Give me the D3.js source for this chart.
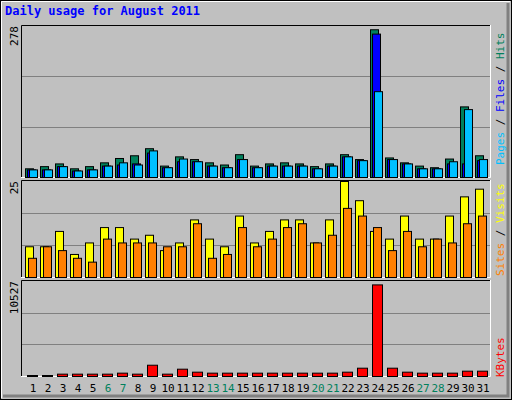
<!DOCTYPE html>
<html><head><meta charset="utf-8">
<script src="https://cdn.jsdelivr.net/npm/d3@7"></script>
<style>body{margin:0;background:#fff}text{font-family:"DejaVu Sans Mono",monospace}</style>
</head><body><svg id="c" width="512" height="400"></svg>
<script>
const days=d3.range(1,32);
const weekend=[6,7,13,14,20,21,27,28];
const hits=[16,20,25,16,20,27,35,40,53,21,38,33,27,23,42,21,25,27,25,20,25,42,33,272,36,27,21,18,34,130,40];
const files=[14,14,20,12,14,21,23,25,45,18,29,29,21,18,33,18,21,21,21,16,21,38,31,264,33,25,16,16,25,25,31];
const pages=[14,14,20,12,14,21,27,23,49,18,34,29,21,18,33,18,21,21,21,16,21,38,31,158,33,25,16,16,29,125,33];
const visits=[8,8,12,6,9,13,13,10,11,7,9,15,10,8,16,9,12,15,15,9,15,25,20,12,10,16,10,10,16,21,23];
const sites=[5,8,7,5,4,10,9,9,9,8,8,14,5,6,13,8,10,13,14,9,11,18,16,13,7,12,8,10,9,14,16];
const kbytes=[110,110,260,260,260,260,370,260,1250,260,810,480,370,370,370,370,370,370,370,370,370,480,920,10150,920,480,370,370,370,590,590];
const maxHits=278,maxVisits=25,maxKB=10527;

const svg=d3.select("#c");
svg.append("rect").attr("width",512).attr("height",400).attr("fill","#c0c0c0");
svg.append("rect").attr("x",0.5).attr("y",0.5).attr("width",511).attr("height",399).attr("fill","none").attr("stroke","#000");
svg.append("path").attr("d","M1.5,398V1.5H510").attr("stroke","#fff").attr("fill","none");
svg.append("path").attr("d","M508,3V396H3").attr("stroke","#808080").attr("stroke-width",3).attr("fill","none");

const x=d3.scaleBand().domain(days).range([25,490]).paddingInner(0).paddingOuter(0);
const X=d=>25+(d-1)*15;
const L=21,R=491;
function panel(t,b){
  svg.append("rect").attr("x",L).attr("y",t).attr("width",R-L).attr("height",b-t).attr("fill","#c0c0c0");
  svg.append("path").attr("d",`M${L+.5},${b}V${t+.5}H${R}`).attr("stroke","#000").attr("fill","none");
  svg.append("path").attr("d",`M${R-.5},${t}V${b-.5}H${L}`).attr("stroke","#fff").attr("fill","none");
  const y=d3.scaleLinear().range([b-1,t+1]);
  [1/3,2/3].forEach(f=>{const yy=Math.round(b-1-(b-t-2)*f)+.5;
    svg.append("line").attr("x1",L+1).attr("x2",R-1).attr("y1",yy).attr("y2",yy).attr("stroke","#808080");});
  return y;
}
function bars(data,y,dx,w,fill){
  svg.append("g").selectAll("rect").data(data).join("rect")
   .attr("x",(v,i)=>X(i+1)+dx+.5).attr("width",w).attr("y",v=>y(v)+.5).attr("height",v=>y(0)-y(v))
   .attr("fill",fill).attr("stroke","#000");
}
const y1=panel(25,178).domain([0,maxHits]);
bars(hits,y1,0,8,"#00805c");
bars(files,y1,2,8,"#0000ff");
bars(pages,y1,4,8,"#00c0ff");
const y2=panel(180,278).domain([0,maxVisits]);
bars(visits,y2,0,8,"#ffff00");
bars(sites,y2,3,8,"#ff8000");
const y3=panel(280,377).domain([0,maxKB]);
bars(kbytes,y3,2,10,"#ff0000");

svg.append("text").attr("x",5).attr("y",15).attr("fill","#0000ff").attr("font-weight","bold").attr("font-size",12).text("Daily usage for August 2011");
svg.append("g").selectAll("text").data(days).join("text").attr("x",d=>X(d)+8).attr("y",392).attr("text-anchor","middle")
 .attr("font-size",11).attr("font-family","DejaVu Sans").attr("fill",d=>weekend.includes(d)?"#00805c":"#000").text(d=>d);
function vl(txt,xx,yy,col,anchor){svg.append("text").attr("transform",`translate(${xx},${yy}) rotate(-90)`).attr("text-anchor",anchor).attr("font-size",11).attr("font-family","DejaVu Sans").attr("fill",col).text(txt);}
vl(String(maxHits),18,26,"#000","end");
vl(String(maxVisits),18,181,"#000","end");
vl(String(maxKB),18,281,"#000","end");
function rl(parts,yy){const t=svg.append("text").attr("transform",`translate(504,${yy}) rotate(-90)`).attr("font-size",11);
 parts.forEach(p=>t.append("tspan").attr("fill",p[1]).text(p[0]));}
rl([["Pages","#00c0ff"],[" / ","#000"],["Files","#0000ff"],[" / ","#000"],["Hits","#00805c"]],165);
rl([["Sites","#ff8000"],[" / ","#000"],["Visits","#ffff00"]],276);
rl([["KBytes","#ff0000"]],377);
</script></body></html>
